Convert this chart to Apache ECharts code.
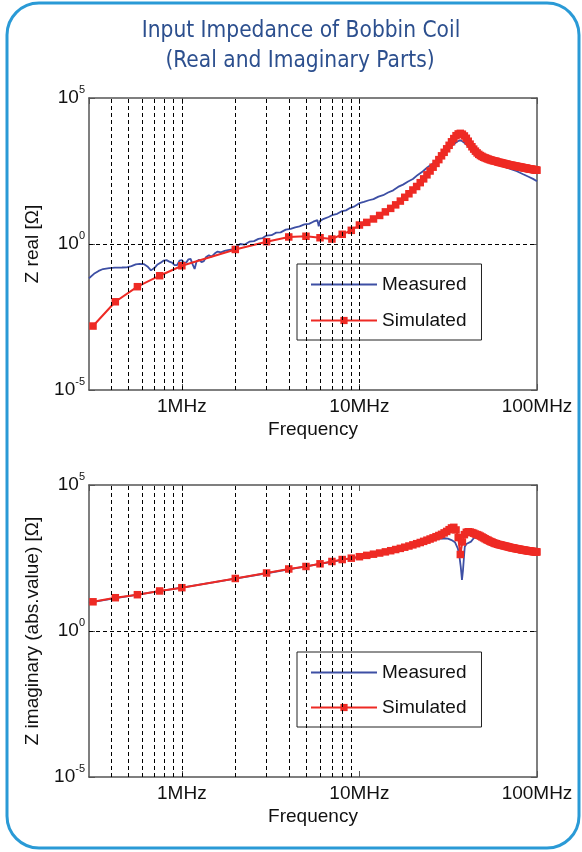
<!DOCTYPE html>
<html><head><meta charset="utf-8">
<script src="https://cdn.jsdelivr.net/npm/echarts@6/dist/echarts.min.js"></script>
<style>html,body{margin:0;padding:0;background:#fff}#c{width:582px;height:852px}</style>
</head><body><div id="c"></div>
<script>
// ---------- text ----------
const titleLines = ['Input Impedance of Bobbin Coil', '(Real and Imaginary Parts)'];
const xAxisName = 'Frequency';
const yAxisNames = ['Z real [\u03A9]', 'Z imaginary (abs.value) [\u03A9]'];
const seriesNames = ['Measured', 'Simulated'];
const xTickValues = [1, 10, 100];
const xTickText = ['1MHz', '10MHz', '100MHz'];
const yTickExponents = [-5, 0, 5];

// ---------- dashed guide lines (MHz, Ohm) ----------
const guideFreqTop = [0.4, 0.5, 0.6, 0.7, 0.8, 0.9, 1, 2, 3, 4, 5, 6, 7, 8, 9, 10];
const guideFreqBottom = [0.4, 0.5, 0.6, 0.7, 0.8, 0.9, 1, 2, 3, 4, 5, 6, 7, 8, 9];
const guideLevel = [1];

// ---------- simulated (MHz) ----------
const simFreq = [0.316, 0.422, 0.562, 0.75, 1, 2, 3, 4, 5, 6, 7, 8, 9, 10,
  11, 12, 13, 14, 15, 16, 17, 18, 19, 20, 21, 22, 23, 24, 25, 26, 27, 28, 29, 30,
  31, 32, 33, 34, 35, 36, 37, 38, 39, 40, 41, 42, 43, 44, 45, 46, 47, 48, 49, 50,
  51, 52, 53, 54, 55, 56, 57, 58, 59, 60, 61, 62, 63, 64, 65, 66, 67, 68, 69, 70,
  71, 72, 73, 74, 75, 76, 77, 78, 79, 80, 81, 82, 83, 84, 85, 86, 87, 88, 89, 90,
  91, 92, 93, 94, 95, 96, 97, 98, 99, 100];
const simReal = [0.00155, 0.0105, 0.0345, 0.082, 0.18, 0.65, 1.2, 1.74, 1.84, 1.64, 1.48, 2.15, 2.94, 4.47,
  5.5, 7.2, 9.5, 12.6, 16.6, 21.9, 29.5, 39.8, 52.5, 70.8, 93.3, 126, 170, 234, 316, 427, 575, 776, 1047, 1380,
  1820, 2399, 3162, 4074, 5129, 5888, 6166, 5754, 5012, 4169, 3311, 2630, 2138, 1778, 1514, 1318, 1175, 1072, 1000, 933,
  891, 851, 813, 776, 759, 724, 708, 692, 676, 646, 631, 617, 603, 589, 575, 562, 550, 537, 525, 513,
  501, 498, 490, 479, 468, 465, 457, 447, 445, 437, 427, 425, 417, 407, 405, 398, 396, 389, 380, 378,
  372, 370, 363, 361, 355, 353, 347, 345, 339, 337];
const simImag = [10, 13.8, 17.5, 23.5, 30.4, 63, 97, 133, 162, 200, 240, 280, 312, 350,
  389, 427, 468, 513, 562, 617, 676, 741, 813, 891, 977, 1072, 1175, 1288, 1413, 1549, 1698, 1862, 2042, 2291,
  2570, 2951, 3388, 3548, 2884, 1585, 417, 1122, 1995, 2399, 2512, 2455, 2344, 2239, 2089, 1995, 1905, 1778, 1660, 1549,
  1445, 1349, 1288, 1202, 1148, 1096, 1047, 1000, 977, 933, 912, 891, 871, 851, 832, 813, 794, 776, 759, 741,
  724, 708, 703, 692, 676, 661, 658, 646, 631, 628, 617, 603, 600, 589, 586, 575, 572, 562, 560, 550,
  548, 537, 535, 533, 525, 523, 521, 513, 511, 510];

// ---------- measured real part (MHz, Ohm) ----------
const measFreqRe = [0.30, 0.32, 0.34, 0.36, 0.39, 0.42, 0.46, 0.49, 0.52, 0.55, 0.58, 0.61, 0.64, 0.67, 0.70,
  0.73, 0.76, 0.79, 0.82, 0.85, 0.88, 0.91, 0.94, 0.97, 1.00, 1.03, 1.06, 1.09, 1.12, 1.15, 1.18, 1.21, 1.25,
  1.29, 1.33, 1.37, 1.42, 1.47, 1.53, 1.59, 1.66, 1.74, 1.82, 1.92, 2.02, 2.13, 2.25, 2.4, 2.55, 2.7, 2.85,
  3.0, 3.2, 3.4, 3.6, 3.85, 4.1, 4.35, 4.6, 4.9, 5.2, 5.5, 5.8, 5.9, 6.0, 6.3, 6.7, 7.1, 7.5, 7.9, 8.4, 8.9,
  9.4, 10, 10.6, 11.3, 12, 12.8, 13.6, 14.5, 15.5, 16.5, 17.6, 18.8, 20, 21.3, 22.7, 24.2, 25.8, 27.5, 29.3,
  31.2, 33, 34.5, 35.8, 36.9, 38, 39.3, 40.7, 42.2, 44, 46, 48, 50.5, 53, 56, 59, 63, 67, 72, 77, 83, 89, 95, 100];
const measReal = [0.067, 0.095, 0.12, 0.139, 0.15, 0.155, 0.157, 0.159, 0.175, 0.2, 0.21, 0.205, 0.17, 0.125, 0.15,
  0.2, 0.23, 0.27, 0.28, 0.25, 0.23, 0.19, 0.19, 0.27, 0.28, 0.23, 0.235, 0.3, 0.31, 0.2, 0.14, 0.25, 0.29,
  0.24, 0.26, 0.36, 0.41, 0.37, 0.47, 0.55, 0.52, 0.58, 0.62, 0.66, 0.8, 1.0, 0.95, 1.2, 1.25, 1.5, 1.6,
  1.95, 2.0, 2.45, 2.5, 3.1, 3.3, 3.7, 4.0, 4.7, 4.9, 5.8, 6.6, 4.0, 6.2, 7.3, 8.4, 10, 10.8, 13, 14.2, 17.4,
  19.5, 25, 27.5, 31.5, 34.5, 42, 47, 58, 69, 90, 108, 138, 168, 232, 305, 425, 555, 790, 1140,
  1650, 2250, 2800, 3300, 3550, 3300, 2800, 2300, 1900, 1600, 1350, 1100, 900, 780, 650, 560, 480, 420, 360, 310, 250, 205, 170, 140];

// ---------- measured imaginary part (MHz, Ohm) ----------
const measFreqIm = [0.30, 0.35, 0.4, 0.5, 0.6, 0.7, 0.8, 0.9, 1, 1.5, 2, 3, 4, 5, 6, 7, 8, 9, 10, 12, 14, 16, 18,
  20, 22, 24, 26, 28, 30, 31.5, 33, 34.5, 35.8, 36.5, 37.2, 37.8, 38.3, 38.8, 39.2, 40, 41, 42.5, 44, 46, 50,
  55, 60, 65, 70, 75, 80, 85, 90, 95, 100];
const measImag = [9.4, 11, 12.6, 15.6, 18.6, 21.8, 24.8, 27.8, 30.5, 46, 62, 95, 130, 162, 198, 235, 272, 308, 345, 420, 500, 590, 690,
  850, 1000, 1150, 1300, 1420, 1500, 1450, 1300, 1100, 680, 400, 160, 56, 120, 350, 770, 950, 1100, 1150, 1500, 1800, 1450,
  1120, 920, 820, 730, 665, 620, 582, 546, 522, 503];

// ---------- styles ----------
const FONT = '"Liberation Sans", Arial, sans-serif';
const TITLE_FONT = '22.5px "DejaVu Sans Condensed", "Liberation Sans Narrow", sans-serif';
const BLUE = '#3d4fa4';
const RED = '#ee2a24';
const AX = '#555';

const pairs = (xs, ys) => xs.map((x, i) => [x, ys[i]]);

function xLabel(v) {
  for (let i = 0; i < xTickValues.length; i++) {
    if (Math.abs(v - xTickValues[i]) / xTickValues[i] < 1e-6) return xTickText[i];
  }
  return '';
}
function yLabel(v) {
  const l = Math.log10(v);
  const e = Math.round(l);
  if (Math.abs(l - e) > 1e-6 || yTickExponents.indexOf(e) < 0) return '';
  return '{b|10}{s|' + e + '}';
}

const gridTops = [98, 485];
const grids = gridTops.map(t => ({ left: 89, top: t, width: 448, height: 292 }));

const xAxes = [], yAxes = [];
[0, 1].forEach(g => {
  xAxes.push({
    type: 'log', logBase: 10, min: 0.3, max: 100, splitNumber: 2, gridIndex: g, position: 'bottom',
    name: xAxisName, nameLocation: 'middle', nameGap: 30,
    nameTextStyle: { fontSize: 19, fontFamily: FONT, color: '#111' },
    axisLine: { show: true, lineStyle: { color: AX, width: 1.5 } },
    axisTick: { show: true, inside: true, length: 6, lineStyle: { color: AX } },
    axisLabel: { formatter: xLabel, fontSize: 19, fontFamily: FONT, color: '#111', margin: 7, showMinLabel: false },
    splitLine: { show: false }, minorTick: { show: false }
  });
  xAxes.push({
    type: 'log', logBase: 10, min: 0.3, max: 100, splitNumber: 2, gridIndex: g, position: 'top',
    axisLine: { show: true, lineStyle: { color: AX, width: 1.5 } },
    axisTick: { show: true, inside: true, length: 6, lineStyle: { color: AX } },
    axisLabel: { show: false }, splitLine: { show: false }
  });
  yAxes.push({
    type: 'log', logBase: 10, min: 1e-5, max: 1e5, splitNumber: 2, gridIndex: g, position: 'left',
    name: yAxisNames[g], nameLocation: 'middle', nameGap: 47, nameRotate: 90,
    nameTextStyle: { fontSize: 19, fontFamily: FONT, color: '#111' },
    axisLine: { show: true, lineStyle: { color: AX, width: 1.5 } },
    axisTick: { show: true, inside: true, length: 6, lineStyle: { color: AX } },
    axisLabel: {
      formatter: yLabel, margin: 4, color: '#111',
      rich: {
        b: { fontSize: 19, fontFamily: FONT, color: '#111', lineHeight: 28, verticalAlign: 'middle' },
        s: { fontSize: 11, fontFamily: FONT, color: '#111', lineHeight: 12, verticalAlign: 'top' }
      }
    },
    splitLine: { show: false }
  });
  yAxes.push({
    type: 'log', logBase: 10, min: 1e-5, max: 1e5, splitNumber: 2, gridIndex: g, position: 'right',
    axisLine: { show: true, lineStyle: { color: AX, width: 1.5 } },
    axisTick: { show: true, inside: true, length: 6, lineStyle: { color: AX } },
    axisLabel: { show: false }, splitLine: { show: false }
  });
});

function guideSeries(g, freqs) {
  return {
    type: 'line', name: 'guides' + g, xAxisIndex: g * 2, yAxisIndex: g * 2, data: [],
    silent: true, animation: false,
    markLine: {
      silent: true, animation: false, symbol: ['none', 'none'],
      label: { show: false },
      lineStyle: { color: '#000', type: [4, 3], width: 1 },
      emphasis: { disabled: true },
      data: freqs.map(f => ({ xAxis: f })).concat(guideLevel.map(v => ({ yAxis: v })))
    }
  };
}
function measSeries(g, data) {
  return {
    type: 'line', name: seriesNames[0], xAxisIndex: g * 2, yAxisIndex: g * 2, data,
    symbol: 'none', animation: false, silent: true,
    lineStyle: { color: BLUE, width: 1.8 }, itemStyle: { color: BLUE },
    emphasis: { disabled: true }
  };
}
function simSeries(g, data) {
  return {
    type: 'line', name: seriesNames[1], xAxisIndex: g * 2, yAxisIndex: g * 2, data,
    symbol: 'rect', symbolSize: 7.5, showAllSymbol: true, animation: false, silent: true,
    lineStyle: { color: RED, width: 2 }, itemStyle: { color: RED },
    emphasis: { disabled: true }
  };
}

function legendAt(top, gap) {
  return {
    data: [
      { name: seriesNames[0], itemStyle: { opacity: 0 } },
      { name: seriesNames[1] }
    ],
    orient: 'vertical', left: 297, top, itemGap: gap,
    itemWidth: 66, itemHeight: 9, padding: [11, 15, 10, 13],
    borderColor: '#222', borderWidth: 1, backgroundColor: '#fff',
    selectedMode: false,
    textStyle: { fontSize: 19, fontFamily: FONT, color: '#111' }
  };
}

const chart = echarts.init(document.getElementById('c'), null, { renderer: 'canvas' });
chart.setOption({
  animation: false,
  backgroundColor: '#fff',
  grid: grids,
  xAxis: xAxes,
  yAxis: yAxes,
  legend: [legendAt(264, 17), legendAt(652, 16)],
  series: [
    guideSeries(0, guideFreqTop),
    measSeries(0, pairs(measFreqRe, measReal)),
    simSeries(0, pairs(simFreq, simReal)),
    guideSeries(1, guideFreqBottom),
    measSeries(1, pairs(measFreqIm, measImag)),
    simSeries(1, pairs(simFreq, simImag))
  ],
  graphic: [
    { type: 'rect', shape: { x: 7, y: 3, width: 572, height: 845, r: 32 },
      style: { fill: 'none', stroke: '#2a9ad6', lineWidth: 3 }, silent: true, z: 100 },
    { type: 'text', x: 301, y: 31, silent: true,
      style: { text: titleLines[0], align: 'center', verticalAlign: 'middle', fill: '#2c4f8e', font: TITLE_FONT } },
    { type: 'text', x: 300, y: 61, silent: true,
      style: { text: titleLines[1], align: 'center', verticalAlign: 'middle', fill: '#2c4f8e', font: TITLE_FONT } }
  ]
});
</script></body></html>
